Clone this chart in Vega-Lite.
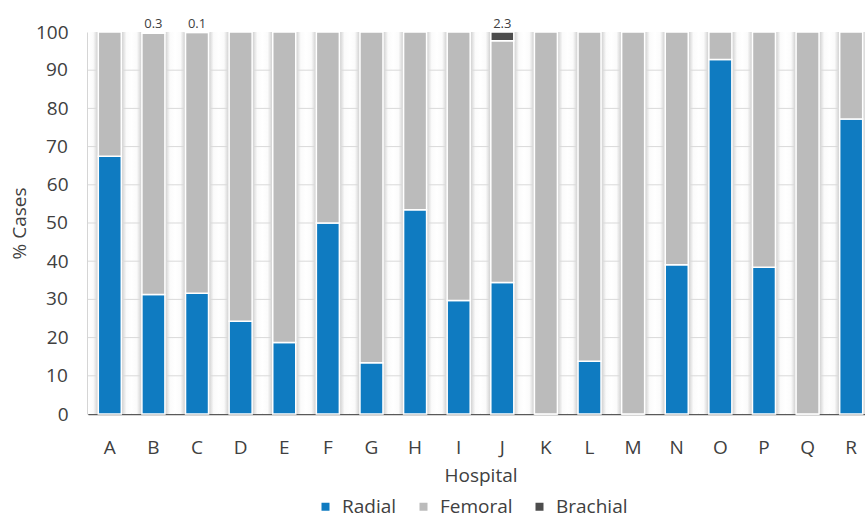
{
  "$schema": "https://vega.github.io/schema/vega-lite/v6.json",
  "autosize": {"type": "none"},
  "width": 785,
  "height": 382,
  "padding": {"left": 88, "top": 32, "right": 0, "bottom": 104},
  "background": "white",
  "config": {
    "view": {"stroke": null},
    "font": "Open Sans",
    "axis": {"labelFont": "Open Sans", "titleFont": "Open Sans", "labelColor": "#404040", "titleColor": "#404040", "titleFontWeight": "normal", "labelOverlap": false},
    "axisY": {"labelOverlap": false}
  },
  "datasets": {
    "cases": [
      {"hospital": "A", "method": "Radial", "ord": 1, "value": 67.5},
      {"hospital": "A", "method": "Femoral", "ord": 2, "value": 32.5},
      {"hospital": "B", "method": "Radial", "ord": 1, "value": 31.3},
      {"hospital": "B", "method": "Femoral", "ord": 2, "value": 68.4},
      {"hospital": "B", "method": "Brachial", "ord": 3, "value": 0.3},
      {"hospital": "C", "method": "Radial", "ord": 1, "value": 31.6},
      {"hospital": "C", "method": "Femoral", "ord": 2, "value": 68.3},
      {"hospital": "C", "method": "Brachial", "ord": 3, "value": 0.1},
      {"hospital": "D", "method": "Radial", "ord": 1, "value": 24.3},
      {"hospital": "D", "method": "Femoral", "ord": 2, "value": 75.7},
      {"hospital": "E", "method": "Radial", "ord": 1, "value": 18.7},
      {"hospital": "E", "method": "Femoral", "ord": 2, "value": 81.3},
      {"hospital": "F", "method": "Radial", "ord": 1, "value": 50.0},
      {"hospital": "F", "method": "Femoral", "ord": 2, "value": 50.0},
      {"hospital": "G", "method": "Radial", "ord": 1, "value": 13.4},
      {"hospital": "G", "method": "Femoral", "ord": 2, "value": 86.6},
      {"hospital": "H", "method": "Radial", "ord": 1, "value": 53.5},
      {"hospital": "H", "method": "Femoral", "ord": 2, "value": 46.5},
      {"hospital": "I", "method": "Radial", "ord": 1, "value": 29.7},
      {"hospital": "I", "method": "Femoral", "ord": 2, "value": 70.3},
      {"hospital": "J", "method": "Radial", "ord": 1, "value": 34.4},
      {"hospital": "J", "method": "Femoral", "ord": 2, "value": 63.3},
      {"hospital": "J", "method": "Brachial", "ord": 3, "value": 2.3},
      {"hospital": "K", "method": "Radial", "ord": 1, "value": 0},
      {"hospital": "K", "method": "Femoral", "ord": 2, "value": 100},
      {"hospital": "L", "method": "Radial", "ord": 1, "value": 13.8},
      {"hospital": "L", "method": "Femoral", "ord": 2, "value": 86.2},
      {"hospital": "M", "method": "Radial", "ord": 1, "value": 0},
      {"hospital": "M", "method": "Femoral", "ord": 2, "value": 100},
      {"hospital": "N", "method": "Radial", "ord": 1, "value": 39.1},
      {"hospital": "N", "method": "Femoral", "ord": 2, "value": 60.9},
      {"hospital": "O", "method": "Radial", "ord": 1, "value": 92.8},
      {"hospital": "O", "method": "Femoral", "ord": 2, "value": 7.2},
      {"hospital": "P", "method": "Radial", "ord": 1, "value": 38.4},
      {"hospital": "P", "method": "Femoral", "ord": 2, "value": 61.6},
      {"hospital": "Q", "method": "Radial", "ord": 1, "value": 0},
      {"hospital": "Q", "method": "Femoral", "ord": 2, "value": 100},
      {"hospital": "R", "method": "Radial", "ord": 1, "value": 77.2},
      {"hospital": "R", "method": "Femoral", "ord": 2, "value": 22.8}
    ],
    "grid": [
      {"y": 10}, {"y": 20}, {"y": 30}, {"y": 40}, {"y": 50},
      {"y": 60}, {"y": 70}, {"y": 80}, {"y": 90}
    ],
    "oddticks": [
      {"y": 10}, {"y": 30}, {"y": 50}, {"y": 70}, {"y": 90}
    ]
  },
  "layer": [
    {
      "data": {"name": "cases"},
      "transform": [
        {"joinaggregate": [{"op": "sum", "field": "value", "as": "total"}], "groupby": ["hospital"]},
        {"filter": "datum.method === 'Radial'"}
      ],
      "mark": {
        "type": "bar",
        "width": {"band": 1},
        "color": {
          "gradient": "linear", "x1": 0, "x2": 1, "y1": 0, "y2": 0,
          "stops": [
            {"offset": 0, "color": "#ffffff"},
            {"offset": 0.12, "color": "#fbfbfb"},
            {"offset": 0.21, "color": "#d6d6d6"},
            {"offset": 0.5, "color": "#d6d6d6"},
            {"offset": 0.79, "color": "#d6d6d6"},
            {"offset": 0.88, "color": "#fbfbfb"},
            {"offset": 1, "color": "#ffffff"}
          ]
        }
      },
      "encoding": {
        "x": {
          "field": "hospital", "type": "nominal", "sort": null,
          "scale": {"paddingInner": 0, "paddingOuter": 0},
          "axis": {
            "title": "Hospital", "labelAngle": 0, "labelFontSize": 19, "titleFontSize": 19,
            "ticks": false, "domain": true, "domainColor": "#595959", "domainWidth": 1.5,
            "labelPadding": 24, "titlePadding": 9
          }
        },
        "y": {
          "field": "total", "type": "quantitative", "stack": null,
          "scale": {"domain": [0, 100]},
          "axis": {
            "title": "% Cases", "values": [0, 10, 20, 30, 40, 50, 60, 70, 80, 90, 100],
            "labelOverlap": false, "labelFontSize": 19, "titleFontSize": 19, "ticks": false,
            "grid": false,
            "domain": true, "domainColor": "#595959", "domainWidth": 1.5,
            "labelPadding": 20, "titlePadding": 6
          }
        }
      }
    },
    {
      "data": {"name": "grid"},
      "mark": {"type": "rule", "color": "#d9d9d9", "strokeWidth": 1},
      "encoding": {
        "y": {"field": "y", "type": "quantitative"}
      }
    },
    {
      "data": {"name": "oddticks"},
      "mark": {"type": "text", "align": "right", "baseline": "middle", "dx": -42, "fontSize": 19, "color": "#404040", "font": "Open Sans"},
      "encoding": {
        "x": {"datum": "A", "type": "nominal"},
        "y": {"field": "y", "type": "quantitative"},
        "text": {"field": "y", "type": "quantitative"}
      }
    },
    {
      "data": {"name": "cases"},
      "mark": {"type": "bar", "width": 23, "stroke": "white", "strokeWidth": 1.5},
      "encoding": {
        "x": {"field": "hospital", "type": "nominal", "sort": null},
        "y": {"field": "value", "type": "quantitative", "stack": "zero"},
        "color": {
          "field": "method", "type": "nominal",
          "scale": {"domain": ["Radial", "Femoral", "Brachial"], "range": ["#0F7BC1", "#BBBBBB", "#4D4D4D"]},
          "legend": {
            "title": null, "orient": "none", "direction": "horizontal",
            "legendX": 228, "legendY": 465, "symbolType": "square", "symbolSize": 64,
            "labelFontSize": 19, "labelColor": "#404040", "columnPadding": 17, "symbolStrokeWidth": 0,
            "labelFont": "Open Sans", "labelOffset": 7
          }
        },
        "order": {"field": "ord", "type": "quantitative"}
      }
    },
    {
      "data": {"name": "cases"},
      "transform": [
        {"joinaggregate": [{"op": "sum", "field": "value", "as": "total"}], "groupby": ["hospital"]},
        {"filter": "datum.method === 'Brachial'"}
      ],
      "mark": {"type": "text", "dy": -1, "fontSize": 13, "color": "#404040", "baseline": "bottom", "font": "Open Sans"},
      "encoding": {
        "x": {"field": "hospital", "type": "nominal", "sort": null},
        "y": {"field": "total", "type": "quantitative", "stack": null},
        "text": {"field": "value", "type": "quantitative", "format": ".1f"}
      }
    }
  ]
}
